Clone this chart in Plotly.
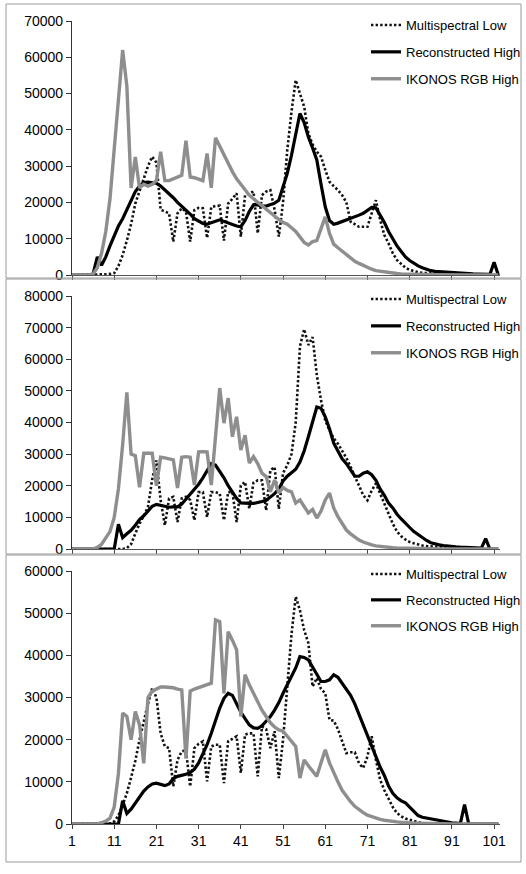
import plotly.graph_objects as go

x_vals = list(range(1, 103))
tick_vals = [1, 11, 21, 31, 41, 51, 61, 71, 81, 91, 101]
series_names = ["Multispectral Low", "Reconstructed High", "IKONOS RGB High"]

# ---------------- Panel 1 ----------------
multi_1 = [0, 0, 0, 0, 0, 0, 0, 100, 200, 300,
           500, 2500, 5500, 9500, 14000, 19700, 23000, 26500, 30000, 32600,
           31000, 18000, 17500, 17000, 9200, 17000, 18400, 17500, 9200, 17900,
           18500, 18400, 10200, 18700, 19000, 19100, 9500, 19700, 21000, 22500,
           10600, 22000, 22500, 23000, 11500, 22000, 23000, 23400, 18000, 10600,
           20000, 34400, 45000, 53700, 50000, 46400, 39000, 36000, 34000, 32600,
           29000, 25700, 24500, 23400, 22000, 20000, 14700, 14000, 13300, 13300,
           13300, 17000, 20600, 15200, 11000, 8700, 6000, 4100, 3000, 2000,
           1400, 1000, 800, 600, 500, 400, 300, 200, 200, 100,
           100, 100, 0, 0, 0, 0, 0, 0, 0, 0,
           0, 0]
recon_1 = [0, 0, 0, 0, 0, 300, 5000, 2700, 5000, 8000,
           11000, 13500, 15500, 18000, 20500, 23000, 24500, 25500, 25600, 25500,
           25300, 24500, 23500, 22500, 21300, 20000, 19000, 17900, 16800, 15500,
           14800, 14200, 14000, 14300, 14800, 15200, 14800, 14200, 13800, 13500,
           13300, 15000, 17500, 19300, 19300, 19000, 19000, 19300, 19800, 20600,
           24000, 28000, 33000, 38500, 44500, 42000, 38000, 35000, 31700, 25000,
           18800, 15000, 14000, 14300, 14700, 15200, 15600, 16000, 16500, 17000,
           17800, 18600, 18500, 16500, 14500, 12000, 10000, 8000, 6500, 5000,
           4000, 3200, 2500, 2000, 1500, 1200, 1000, 900, 800, 700,
           600, 500, 450, 400, 350, 300, 250, 200, 200, 150,
           3500, 0]
ikonos_1 = [0, 0, 0, 0, 0, 300, 2000, 6000, 12000, 21000,
            35000, 50000, 62000, 52000, 24000, 32500, 24000, 25000, 24500, 25000,
            26000, 34000, 26000, 26000, 26500, 27000, 27500, 37000, 27000, 26800,
            26500, 26000, 33500, 24000, 37800, 35500, 33000, 30500, 28500, 26500,
            25000, 23500, 22000, 21000, 20000, 19000, 18000, 17000, 16000, 15300,
            14500, 14000, 13000, 12000, 10500, 9000, 8300, 9200, 9500, 12500,
            16000, 11500, 8500, 7500, 6500, 5500, 4500, 3800, 3200, 2600,
            2000, 1600, 1200, 1000, 800, 600, 500, 400, 300, 250,
            200, 200, 150, 150, 100, 100, 100, 100, 50, 50,
            50, 50, 0, 0, 0, 0, 0, 0, 0, 0,
            0, 0]

# ---------------- Panel 2 ----------------
multi_2 = [0, 0, 0, 0, 0, 0, 0, 0, 0, 0,
           0, 0, 0, 300, 1500, 4900, 8000, 10500, 13300, 22000,
           28000, 15400, 7500, 16000, 16500, 8500, 16000, 16500, 15500, 9100,
           18000, 18000, 10100, 18000, 18000, 17500, 9100, 18000, 18000, 8500,
           20100, 21200, 12700, 21000, 21700, 21700, 12200, 24900, 25900, 12700,
           24000, 26500, 30000, 40000, 64000, 69500, 64500, 67000, 55000, 47000,
           40700, 37500, 35000, 33300, 31000, 28800, 26000, 23000, 19500, 17000,
           15400, 18500, 20700, 17500, 14500, 11000, 8000, 5500, 4000, 3000,
           2200, 1800, 1400, 1100, 900, 800, 600, 500, 400, 300,
           200, 200, 100, 100, 100, 0, 0, 0, 0, 0,
           0, 0]
recon_2 = [0, 0, 0, 0, 0, 0, 0, 0, 0, 0,
           0, 7800, 3600, 4800, 5900, 7500, 9300, 10500, 12000, 13500,
           14100, 13800, 13300, 13200, 13300, 13300, 14200, 15800, 17500, 19000,
           20500, 22500, 25000, 27000, 26500, 24500, 22500, 20000, 17800, 16000,
           14600, 14400, 14400, 14400, 14600, 15000, 15400, 16500, 17500, 19000,
           21500, 23000, 24000, 25200, 27500, 31000, 35500, 40000, 44900, 44500,
           41800, 38000, 33500, 31000, 28500, 27000, 25000, 23000, 23000, 24000,
           24400, 23500, 21700, 19000, 17000, 14500, 13000, 11000, 9500, 8000,
           6800, 5500, 4500, 3500, 2700, 2000, 1600, 1300, 1100, 900,
           800, 700, 600, 500, 450, 400, 350, 300, 3300, 0,
           0, 0]
ikonos_2 = [0, 0, 0, 0, 0, 0, 500, 1500, 3500, 5500,
            10000, 19000, 33000, 49500, 30000, 29500, 19500, 30300, 30300, 30300,
            20000, 29000, 28800, 28500, 28200, 19300, 29000, 29200, 29000, 20200,
            30700, 30800, 30700, 20200, 35000, 50900, 39800, 47700, 35500, 41800,
            31300, 36000, 27200, 29200, 27000, 24000, 22900, 18100, 21800, 17700,
            19400, 18500, 18100, 14500, 15500, 13500, 11400, 12500, 9800, 12000,
            15500, 17700, 13000, 10200, 8000, 6000, 4800, 3800, 2800, 2200,
            1700, 1300, 1000, 800, 600, 500, 400, 300, 250, 200,
            200, 150, 150, 100, 100, 100, 50, 50, 50, 50,
            0, 0, 0, 0, 0, 0, 0, 0, 0, 0,
            0, 0]

# ---------------- Panel 3 ----------------
multi_3 = [0, 0, 0, 0, 0, 0, 0, 0, 0, 100,
           600, 2000, 4500, 7300, 11000, 15000, 20000, 24500, 28500, 32200,
           30000, 21500, 18400, 18000, 8900, 15200, 17200, 17500, 8900, 18000,
           19000, 19600, 10100, 18400, 18800, 18800, 9700, 19600, 20200, 20800,
           12100, 21200, 21500, 21500, 11300, 23100, 22500, 18000, 22000, 10900,
           20000, 32600, 45000, 53900, 50700, 46000, 42900, 32600, 34600, 32000,
           31000, 24700, 24500, 22500, 19500, 16800, 17000, 17000, 14400, 13300,
           16000, 20800, 15200, 10500, 8000, 5800, 4000, 2600, 1800, 1300,
           1000, 600, 400, 200, 100, 100, 0, 0, 0, 0,
           0, 0, 0, 0, 0, 0, 0, 0, 0, 0,
           0, 0]
recon_3 = [0, 0, 0, 0, 0, 0, 0, 0, 0, 0,
           0, 0, 5500, 2500, 3500, 5000, 6500, 7800, 8800, 9500,
           9700, 9300, 9100, 9500, 10800, 11300, 11500, 11800, 12200, 13000,
           14500, 16500, 18800, 21500, 24500, 27500, 29800, 31000, 30500, 28500,
           26500, 25000, 23500, 22800, 22700, 23300, 24300, 25500, 27000, 28800,
           31000, 33000, 35000, 37000, 39700, 39500, 38900, 37000, 35500, 33800,
           33800, 34200, 35400, 34800, 33400, 32000, 30500, 28500, 26000, 23500,
           21000, 18500, 16000, 13500, 11500, 9000, 7300, 6200, 5500, 5000,
           4000, 3000, 2000, 1600, 1400, 1200, 1000, 800, 600, 400,
           300, 200, 100, 4600, 0, 0, 0, 0, 0, 0,
           0, 0]
ikonos_3 = [0, 0, 0, 0, 0, 0, 0, 300, 700, 1400,
            4000, 12000, 26300, 25500, 20000, 26700, 23500, 14400, 30000, 31500,
            32000, 32500, 32500, 32500, 32300, 32000, 31800, 15500, 31500, 32000,
            32300, 32600, 33000, 33400, 48400, 48000, 31000, 45600, 43600, 41300,
            25500, 35400, 33000, 31000, 28600, 27000, 25500, 24000, 23000, 22300,
            22000, 20800, 19500, 18400, 10900, 15200, 13800, 12500, 11300, 14500,
            17600, 14500, 12100, 10000, 8000, 6600, 5300, 4200, 3400, 2700,
            2100, 1700, 1400, 1100, 900, 700, 600, 500, 400, 300,
            250, 200, 200, 150, 100, 100, 100, 50, 50, 50,
            0, 0, 0, 0, 0, 0, 0, 0, 0, 0,
            0, 0]

panels = [
    (multi_1, recon_1, ikonos_1, 70000),
    (multi_2, recon_2, ikonos_2, 80000),
    (multi_3, recon_3, ikonos_3, 60000),
]

W, H = 526, 874
FONT = "Arial, 'Liberation Sans', sans-serif"

# pixel geometry of each plot area (top, bottom) and legend top
plot_px = [(21, 275), (296, 549), (571, 824)]
legend_top_px = [10, 284, 559]
legend_gaps = [7, 7, 6]
frames_px = [(4, 278), (279, 554), (555, 862)]
x_left, x_right = 72, 500

styles = [
    dict(color="#111111", width=2.6, dash="2.4px,2.2px"),
    dict(color="#000000", width=3.2),
    dict(color="#8e8e8e", width=3.4),
]

fig = go.Figure()
layout = dict(
    width=W, height=H,
    margin=dict(l=0, r=0, t=0, b=0, autoexpand=False),
    paper_bgcolor="white", plot_bgcolor="white",
    font=dict(family=FONT, size=14, color="black"),
    showlegend=True,
)

shapes = []
for i, (m, r, k, ymax) in enumerate(panels):
    n = "" if i == 0 else str(i + 1)
    xa = "x" + n
    ya = "y" + n
    lg = "legend" + n
    for name, vals, st in zip(series_names, (m, r, k), styles):
        fig.add_trace(go.Scatter(
            x=x_vals, y=vals, mode="lines", name=name,
            line=st, xaxis=xa, yaxis=ya, legend=lg,
            legendgroup=f"{name}{i}", hoverinfo="skip",
        ))
    top, bot = plot_px[i]
    layout["xaxis" + n] = dict(
        domain=[x_left / W, x_right / W], range=[1, 102.4], automargin=False,
        anchor=ya, tickvals=tick_vals, ticktext=[str(t) for t in tick_vals],
        showticklabels=(i == 2), ticks="outside", ticklen=4, tickcolor="#444",
        showline=True, linecolor="#555", linewidth=1.2, showgrid=False,
        zeroline=False, tickfont=dict(size=14, family=FONT, color="black"),
    )
    layout["yaxis" + n] = dict(
        domain=[1 - bot / H, 1 - top / H], range=[0, ymax], dtick=10000,
        anchor=xa, ticks="outside", ticklen=5, tickcolor="#333", automargin=False,
        showline=True, linecolor="#333", linewidth=1.2, showgrid=False,
        zeroline=False, tickformat="d", tickfont=dict(size=14, family=FONT, color="black"),
    )
    layout[lg] = dict(
        x=366 / W, xanchor="left", y=1 - legend_top_px[i] / H, yanchor="top",
        bgcolor="rgba(0,0,0,0)", borderwidth=0,
        font=dict(size=13, family=FONT, color="black"),
        tracegroupgap=legend_gaps[i], traceorder="grouped",
    )
    ft, fb = frames_px[i]
    shapes.append(dict(type="rect", xref="paper", yref="paper",
                       x0=6 / W, x1=521 / W, y0=1 - fb / H, y1=1 - ft / H,
                       line=dict(color="#9a9a9a", width=1)))

layout["shapes"] = shapes
fig.update_layout(**layout)
fig.write_html(
    "out.html",
    config={"displayModeBar": False},
    post_script="document.body.style.margin='0';document.body.style.padding='0';"
                "document.body.style.overflow='hidden';",
)
